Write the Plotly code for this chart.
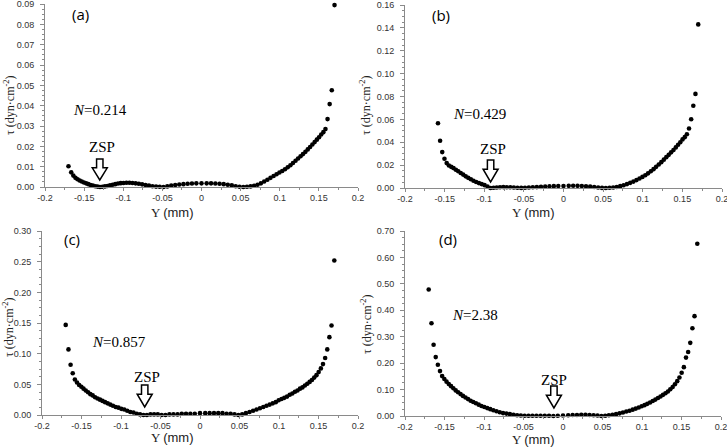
import plotly.graph_objects as go

# ---------------- data ----------------
Y_mm = [-0.1700, -0.1665, -0.1638, -0.1611, -0.1584, -0.1557, -0.1530, -0.1502, -0.1474, -0.1446,
        -0.1417, -0.1388, -0.1358, -0.1328, -0.1297, -0.1266, -0.1234, -0.1202, -0.1169, -0.1136,
        -0.1102, -0.1067, -0.1032, -0.0996, -0.0959, -0.0921, -0.0882, -0.0842, -0.0801, -0.0759,
        -0.0716, -0.0672, -0.0627, -0.0581, -0.0534, -0.0486, -0.0437, -0.0387, -0.0336, -0.0284,
        -0.0231, -0.0177, -0.0122, -0.0066, 0.0,
        0.0066, 0.0122, 0.0177, 0.0231, 0.0284, 0.0336, 0.0387, 0.0437, 0.0486, 0.0534,
        0.0581, 0.0627, 0.0672, 0.0716, 0.0759, 0.0801, 0.0842, 0.0882, 0.0921, 0.0959,
        0.0996, 0.1032, 0.1067, 0.1102, 0.1136, 0.1169, 0.1202, 0.1234, 0.1266, 0.1297,
        0.1328, 0.1358, 0.1388, 0.1417, 0.1446, 0.1474, 0.1502, 0.1530, 0.1557, 0.1584,
        0.1611, 0.1638, 0.1665, 0.1700]

tau_a = [0.0102, 0.0072, 0.0056, 0.0045, 0.0038, 0.0032, 0.0027, 0.0022, 0.0018, 0.0014,
         0.0010, 0.0007, 0.0004, 0.0002, 0.0000, 0.0001, 0.0003, 0.0005, 0.0008, 0.0011,
         0.0014, 0.0017, 0.0019, 0.0020, 0.0021, 0.0021, 0.0020, 0.0018, 0.0016, 0.0013,
         0.0010, 0.0007, 0.0004, 0.0002, 0.0001, 0.0000, 0.0003, 0.0007, 0.0010, 0.0012,
         0.0014, 0.0016, 0.0017, 0.0018, 0.0018,
         0.0018, 0.0018, 0.0017, 0.0016, 0.0014, 0.0011, 0.0008, 0.0004, 0.0001, 0.0000,
         0.0001, 0.0003, 0.0006, 0.0011, 0.0018, 0.0027, 0.0036, 0.0045, 0.0054, 0.0063,
         0.0071, 0.0079, 0.0087, 0.0097, 0.0107, 0.0118, 0.0129, 0.0140, 0.0151, 0.0162,
         0.0173, 0.0185, 0.0197, 0.0209, 0.0221, 0.0233, 0.0245, 0.0258, 0.0270, 0.0285,
         0.0334, 0.0408, 0.0476, 0.0895]

tau_b = [None, None, None, None, 0.0567, 0.0413, 0.0314, 0.0256, 0.0218, 0.0197,
         0.0185, 0.0174, 0.0160, 0.0146, 0.0131, 0.0117, 0.0102, 0.0089, 0.0076, 0.0064,
         0.0053, 0.0043, 0.0034, 0.0025, 0.0013, 0.0000, 0.0002, 0.0005, 0.0007, 0.0008,
         0.0007, 0.0006, 0.0004, 0.0002, 0.0001, 0.0002, 0.0004, 0.0006, 0.0008, 0.0010,
         0.0012, 0.0014, 0.0016, 0.0017, 0.0018,
         0.0019, 0.0020, 0.0019, 0.0017, 0.0015, 0.0012, 0.0009, 0.0005, 0.0001, 0.0000,
         0.0002, 0.0005, 0.0009, 0.0016, 0.0024, 0.0034, 0.0045, 0.0056, 0.0069, 0.0083,
         0.0097, 0.0112, 0.0128, 0.0146, 0.0165, 0.0185, 0.0205, 0.0226, 0.0248, 0.0270,
         0.0290, 0.0312, 0.0333, 0.0355, 0.0378, 0.0400, 0.0425, 0.0445, 0.0470, 0.0521,
         0.0602, 0.0719, 0.0823, 0.1431]

tau_c = [0.147, 0.107, 0.082, 0.068, 0.058, 0.053, 0.049, 0.046, 0.043, 0.040,
         0.037, 0.034, 0.032, 0.029, 0.027, 0.025, 0.023, 0.021, 0.019, 0.017,
         0.015, 0.013, 0.012, 0.010, 0.009, 0.007, 0.005, 0.004, 0.002, 0.001,
         0.000, 0.000, 0.001, 0.001, 0.001, 0.000, 0.000, 0.001, 0.001, 0.001,
         0.002, 0.002, 0.002, 0.002, 0.003,
         0.003, 0.003, 0.003, 0.003, 0.003, 0.002, 0.002, 0.001, 0.000, 0.001,
         0.003, 0.005, 0.007, 0.009, 0.011, 0.013, 0.015, 0.017, 0.019, 0.021,
         0.024, 0.026, 0.028, 0.030, 0.033, 0.035, 0.038, 0.040, 0.043, 0.045,
         0.048, 0.051, 0.054, 0.057, 0.061, 0.065, 0.070, 0.076, 0.083, 0.093,
         0.107, 0.127, 0.146, 0.252]

tau_d = [0.479, 0.351, 0.270, 0.223, 0.194, 0.170, 0.151, 0.140, 0.130, 0.121,
         0.113, 0.105, 0.097, 0.090, 0.083, 0.076, 0.070, 0.064, 0.058, 0.053,
         0.048, 0.043, 0.038, 0.034, 0.030, 0.026, 0.022, 0.018, 0.014, 0.011,
         0.009, 0.007, 0.005, 0.003, 0.002, 0.001, 0.001, 0.001, 0.001, 0.001,
         0.001, 0.001, 0.000, 0.001, 0.002,
         0.003, 0.004, 0.004, 0.005, 0.005, 0.004, 0.003, 0.002, 0.000, 0.001,
         0.003, 0.005, 0.007, 0.010, 0.013, 0.017, 0.020, 0.024, 0.028, 0.032,
         0.037, 0.041, 0.046, 0.051, 0.057, 0.062, 0.068, 0.074, 0.080, 0.086,
         0.093, 0.101, 0.110, 0.120, 0.132, 0.146, 0.164, 0.185, 0.221, 0.242,
         0.277, 0.332, 0.378, 0.652]

panel_labels = ["(a)", "(b)", "(c)", "(d)"]
n_labels = ["0.214", "0.429", "0.857", "2.38"]
zsp_Y = [-0.130, -0.092, -0.070, -0.0115]
y_max = [0.09, 0.16, 0.30, 0.70]
y_dtick = [0.01, 0.02, 0.05, 0.10]
x_tickvals = [-0.2, -0.15, -0.1, -0.05, 0, 0.05, 0.1, 0.15, 0.2]
x_ticktext = ["-0.2", "-0.15", "-0.1", "-0.05", "0", "0.05", "0.1", "0.15", "0.2"]
series = [tau_a, tau_b, tau_c, tau_d]

# ---------------- layout geometry (pixels) ----------------
W, H = 727, 448
boxes = [(45, 358, 4, 187), (405, 722, 5, 188), (42, 358, 231, 415), (405, 721, 231, 416)]
label_pos = [(80, 14), (441, 15), (72, 239), (448, 239)]
n_pos = [(100, 110), (479, 114), (119, 342), (475, 315)]
zsp_pos = [(102, 147), (493, 149), (147, 377), (554, 380)]
arrow_top = [159, 160, 385, 386]
arrow_tip = [180, 182, 407, 408]
ytitle_pos = [(10, 106), (366, 106), (8, 328), (366, 325)]
xtitle_pos = [(172, 212), (533, 212), (172, 437), (533, 439)]

fig = go.Figure()
axis_col = "#8a8a8a"
tick_font = dict(family="Liberation Sans, Arial", size=9, color="#333")


def px_x(p):
    return p / W


def px_y(p):
    return 1 - p / H


def note(text, pos, font, angle=0):
    fig.add_annotation(text=text, x=px_x(pos[0]), y=px_y(pos[1]), xref="paper", yref="paper",
                       xanchor="center", yanchor="middle", showarrow=False,
                       textangle=angle, font=font)


for i in range(4):
    sfx = "" if i == 0 else str(i + 1)
    l, r, t, b = boxes[i]
    fig.add_trace(go.Scatter(
        x=Y_mm, y=series[i], mode="markers",
        marker=dict(color="black", size=4.6),
        xaxis="x" + sfx, yaxis="y" + sfx, cliponaxis=False, showlegend=False,
        hoverinfo="x+y"))
    fig.layout["xaxis" + sfx] = dict(
        domain=[px_x(l), px_x(r)], anchor="y" + sfx, range=[-0.2, 0.2],
        tickvals=x_tickvals, ticktext=x_ticktext, tickfont=tick_font,
        showline=True, linecolor=axis_col, linewidth=1, ticks="outside",
        ticklen=3, tickcolor=axis_col, showgrid=False, zeroline=False, automargin=False,
        ticklabelstandoff=-1, ticklabeloverflow="allow",
        minor=dict(ticks="outside", ticklen=2, tickcolor=axis_col, dtick=0.025, tick0=-0.2,
                   showgrid=False))
    fig.layout["yaxis" + sfx] = dict(
        domain=[px_y(b), px_y(t)], anchor="x" + sfx, range=[0, y_max[i] * 1.0005],
        dtick=y_dtick[i], tick0=0, tickformat=".2f", tickfont=tick_font,
        showline=True, linecolor=axis_col, linewidth=1, ticks="outside",
        ticklen=4, tickcolor=axis_col, showgrid=False, zeroline=False, automargin=False,
        ticklabelstandoff=4, ticklabeloverflow="allow",
        minor=dict(ticks="outside", ticklen=2, tickcolor=axis_col, dtick=y_dtick[i] / 4,
                   showgrid=False))

    note(panel_labels[i], label_pos[i], dict(family="Open Sans, Noto Sans", size=15, color="black"))
    note("<i>N</i>=" + n_labels[i], n_pos[i],
         dict(family="Liberation Serif, Times New Roman", size=15, color="black"))
    note("ZSP", zsp_pos[i], dict(family="Liberation Serif, Times New Roman", size=15, color="black"))
    note("τ (dyn·cm<sup>-2</sup>)", ytitle_pos[i],
         dict(family="Liberation Serif, Times New Roman", size=12, color="#222"), angle=-90)
    note("Y <span style='font-family:Liberation Sans'>(mm)</span>", xtitle_pos[i],
         dict(family="Liberation Serif, Times New Roman", size=13, color="#222"))

    # hollow arrow pointing at the zero-shear-stress point (data x, paper y)
    mm_per_px = 0.4 / (r - l)
    cx = zsp_Y[i]
    hw_head = 7.5 * mm_per_px
    hw_shaft = 3.2 * mm_per_px
    y_top = px_y(arrow_top[i])
    y_tip = px_y(arrow_tip[i])
    y_neck = px_y(arrow_top[i] + 0.42 * (arrow_tip[i] - arrow_top[i]))
    path = (f"M {cx - hw_shaft},{y_top} L {cx + hw_shaft},{y_top} L {cx + hw_shaft},{y_neck} "
            f"L {cx + hw_head},{y_neck} L {cx},{y_tip} L {cx - hw_head},{y_neck} "
            f"L {cx - hw_shaft},{y_neck} Z")
    fig.add_shape(type="path", path=path, xref="x" + sfx, yref="paper",
                  line=dict(color="black", width=1.5), fillcolor="white")

fig.update_layout(width=W, height=H, margin=dict(l=0, r=0, t=0, b=0, autoexpand=False),
                  paper_bgcolor="white", plot_bgcolor="white", showlegend=False)
fig.write_html("out.html", config={"displayModeBar": False},
               post_script="document.body.style.margin='0';document.body.style.overflow='hidden';")
